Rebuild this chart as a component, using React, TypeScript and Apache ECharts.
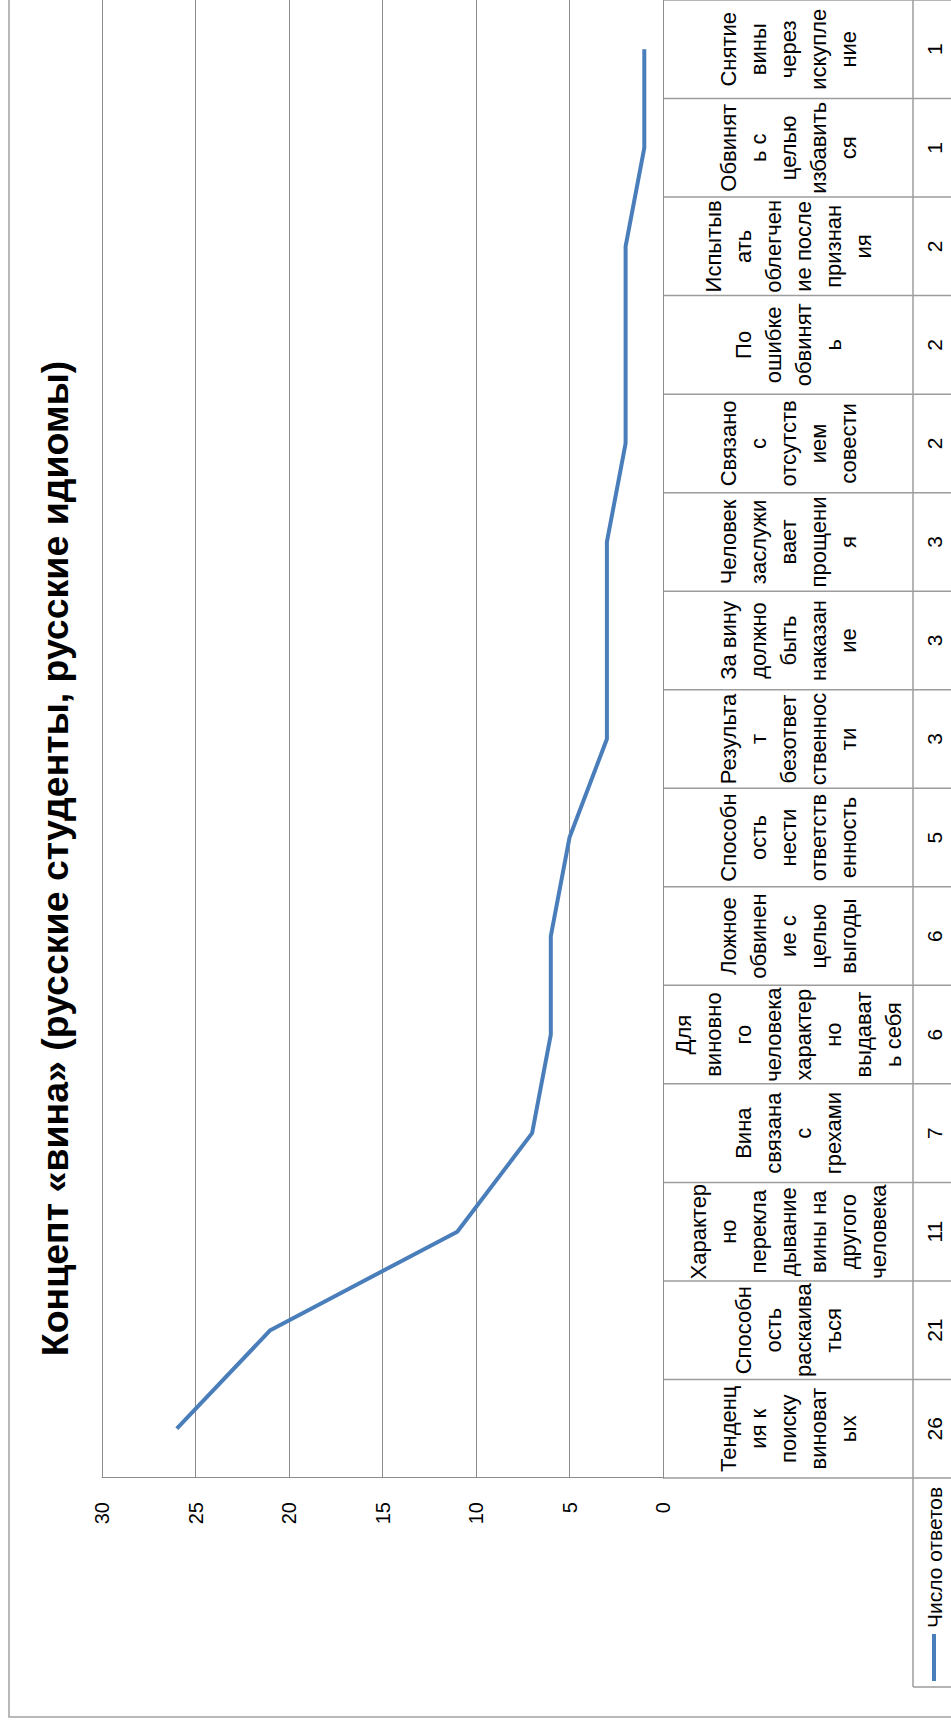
import React, { useEffect, useRef } from "react";
import * as echarts from "echarts";

// Chart content
const TITLE = "Концепт «вина» (русские студенты, русские идиомы)";
const SERIES_NAME = "Число ответов";

// Category names, wrapped the way they appear in the data table cells
const categories = [
  "Тенденц\nия к\nпоиску\nвиноват\nых",
  "Способн\nость\nраскаива\nться",
  "Характер\nно\nперекла\nдывание\nвины на\nдругого\nчеловека",
  "Вина\nсвязана\nс\nгрехами",
  "Для\nвиновно\nго\nчеловека\nхарактер\nно\nвыдават\nь себя",
  "Ложное\nобвинен\nие с\nцелью\nвыгоды",
  "Способн\nость\nнести\nответств\nенность",
  "Результа\nт\nбезответ\nственнос\nти",
  "За вину\nдолжно\nбыть\nнаказан\nие",
  "Человек\nзаслужи\nвает\nпрощени\nя",
  "Связано\nс\nотсутств\nием\nсовести",
  "По\nошибке\nобвинят\nь",
  "Испытыв\nать\nоблегчен\nие после\nпризнан\nия",
  "Обвинят\nь с\nцелью\nизбавить\nся",
  "Снятие\nвины\nчерез\nискупле\nние",
];

const responses = [26, 21, 11, 7, 6, 6, 5, 3, 3, 3, 2, 2, 2, 1, 1];

// Value axis scale
const AXIS_MIN = 0;
const AXIS_MAX = 30;
const AXIS_STEP = 5;

// The chart is laid out in landscape and turned a quarter turn to fit the page
const PAGE_W = 951;
const PAGE_H = 1720;
const CHART_W = 1729;
const CHART_H = 960;

const FONT = '"Liberation Sans", Arial, sans-serif';
const LINE_BLUE = "#4a7ebb";
const GRID_GREY = "#8c8c8c";
const TABLE_GREY = "#9c9c9c";

export default function App() {
  const ref = useRef<HTMLDivElement>(null);

  useEffect(() => {
    if (!ref.current) return;
    const chart = echarts.init(ref.current, null, { renderer: "svg" });
    const grid = { left: 242, top: 102, width: 1478, height: 561 };

    chart.setOption({
      animation: false,
      backgroundColor: "#ffffff",
      grid: { ...grid, containLabel: false },
      xAxis: {
        type: "category",
        data: categories,
        boundaryGap: true,
        axisLine: { show: true, lineStyle: { color: GRID_GREY, width: 1 } },
        axisTick: { show: false },
        axisLabel: { show: false },
        splitLine: { show: false },
      },
      yAxis: {
        type: "value",
        min: AXIS_MIN,
        max: AXIS_MAX,
        interval: AXIS_STEP,
        axisLine: { show: true, lineStyle: { color: GRID_GREY, width: 1 } },
        axisTick: { show: false },
        axisLabel: { fontSize: 20, color: "#000", fontFamily: FONT, margin: 24 },
        splitLine: { show: true, lineStyle: { color: GRID_GREY, width: 1 } },
      },
      series: [
        {
          type: "line",
          name: SERIES_NAME,
          data: responses,
          symbol: "none",
          showSymbol: false,
          lineStyle: { color: LINE_BLUE, width: 4 },
          itemStyle: { color: LINE_BLUE },
        },
      ],
    });

    // Data table under the plot, positioned from the category axis
    const centers = categories.map(
      (_, i) => chart.convertToPixel({ xAxisIndex: 0 }, i) as number
    );
    const step = centers.length > 1 ? centers[1] - centers[0] : grid.width;
    const tableTop = chart.convertToPixel({ yAxisIndex: 0 }, AXIS_MIN) as number;
    const rowSplit = tableTop + 250;
    const tableBottom = rowSplit + 42;
    const headerLeft = 33;
    const plotRight = grid.left + grid.width;

    const lineStyle = { stroke: TABLE_GREY, lineWidth: 1.5 };
    const elements: any[] = [];

    // chart area border
    elements.push({
      type: "rect",
      z: -10,
      shape: { x: 3, y: 9, width: CHART_W + 20, height: CHART_H + 20 },
      style: { fill: "none", stroke: "#a3a3a3", lineWidth: 1.5 },
    });

    // title
    elements.push({
      type: "text",
      x: CHART_W / 2 - 3,
      y: 55,
      style: {
        text: TITLE,
        font: `bold 37.5px ${FONT}`,
        fill: "#000",
        align: "center",
        verticalAlign: "middle",
      },
    });

    // cell dividers between categories
    for (let k = 0; k <= categories.length; k++) {
      const x = centers[0] - step / 2 + k * step;
      elements.push({
        type: "line",
        shape: { x1: x, y1: tableTop, x2: x, y2: tableBottom },
        style: lineStyle,
      });
    }
    // row divider and header cell
    elements.push({
      type: "line",
      shape: { x1: headerLeft, y1: rowSplit, x2: plotRight, y2: rowSplit },
      style: lineStyle,
    });
    elements.push({
      type: "line",
      shape: { x1: headerLeft, y1: tableBottom, x2: plotRight, y2: tableBottom },
      style: lineStyle,
    });
    elements.push({
      type: "line",
      shape: { x1: headerLeft, y1: rowSplit, x2: headerLeft, y2: tableBottom },
      style: lineStyle,
    });

    // legend key and series name in the header cell
    const valueRowMid = (rowSplit + tableBottom) / 2;
    elements.push({
      type: "line",
      shape: { x1: 39, y1: valueRowMid, x2: 86, y2: valueRowMid },
      style: { stroke: LINE_BLUE, lineWidth: 4 },
    });
    elements.push({
      type: "text",
      x: 92,
      y: valueRowMid,
      style: {
        text: SERIES_NAME,
        font: `21px ${FONT}`,
        fill: "#000",
        align: "left",
        verticalAlign: "middle",
      },
    });

    // category names and values
    categories.forEach((name, i) => {
      elements.push({
        type: "text",
        x: centers[i],
        y: (tableTop + rowSplit) / 2,
        style: {
          text: name,
          font: `22px ${FONT}`,
          lineHeight: 30,
          fill: "#000",
          align: "center",
          verticalAlign: "middle",
        },
      });
      elements.push({
        type: "text",
        x: centers[i],
        y: valueRowMid,
        style: {
          text: String(responses[i]),
          font: `21px ${FONT}`,
          fill: "#000",
          align: "center",
          verticalAlign: "middle",
        },
      });
    });

    chart.setOption({ graphic: { elements } });

    return () => chart.dispose();
  }, []);

  return (
    <div
      style={{
        position: "fixed",
        left: 0,
        top: 0,
        width: PAGE_W,
        height: PAGE_H,
        overflow: "hidden",
        background: "#fff",
      }}
    >
      <div
        ref={ref}
        style={{
          position: "absolute",
          left: 0,
          top: 0,
          width: CHART_W,
          height: CHART_H,
          transformOrigin: "0 0",
          transform: `translateY(${PAGE_H}px) rotate(-90deg)`,
        }}
      />
    </div>
  );
}
